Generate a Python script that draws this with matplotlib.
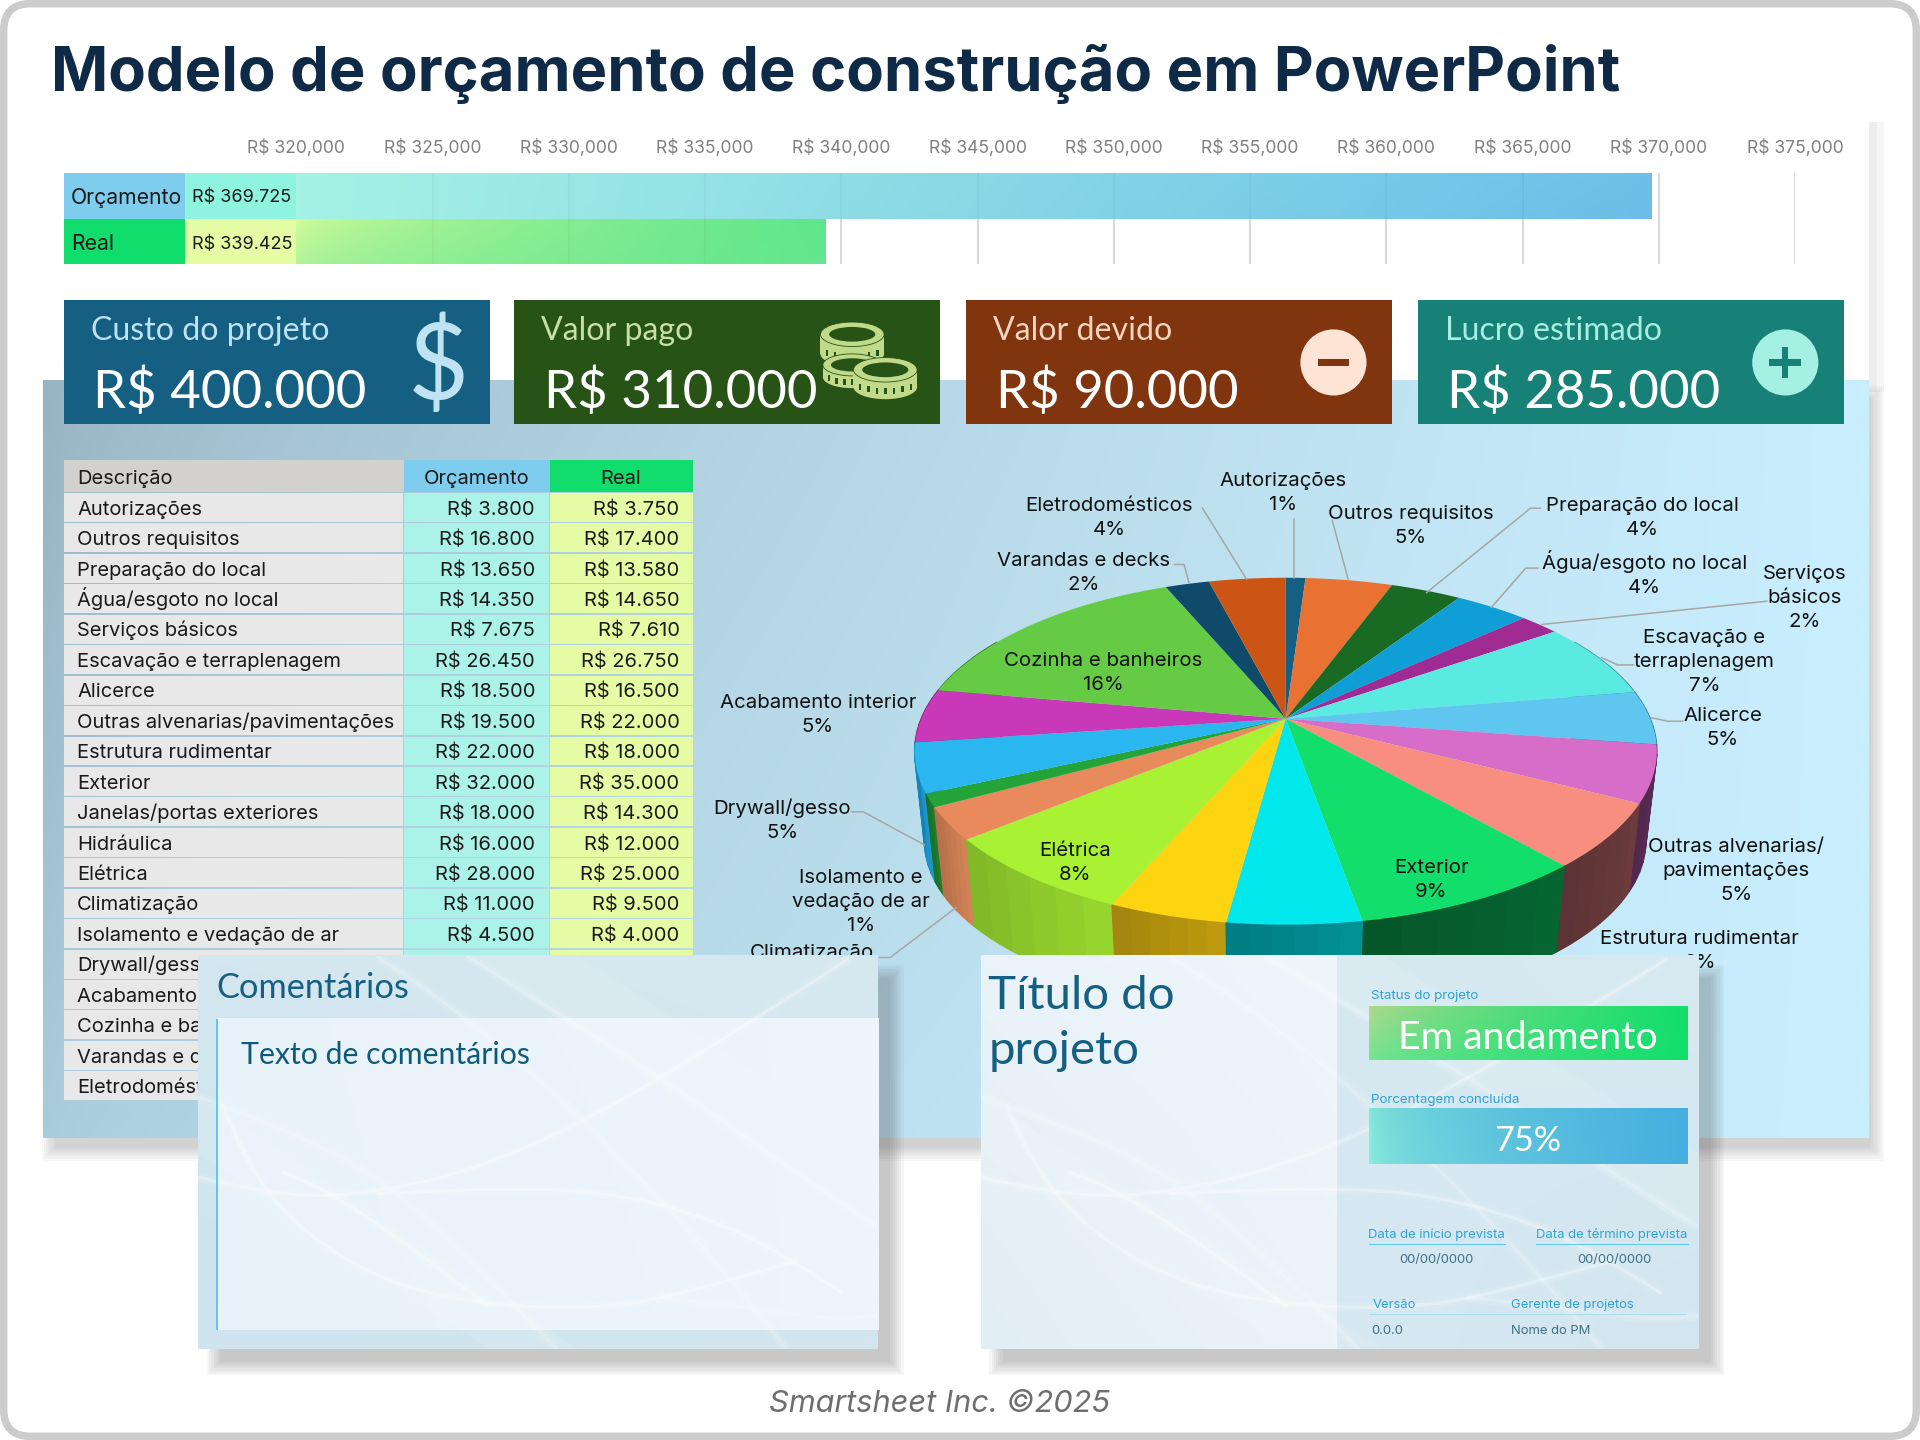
import matplotlib

matplotlib.use("Agg")
import matplotlib.pyplot as plt  # noqa: E402
import numpy as np  # noqa: E402
from matplotlib.colors import to_rgb  # noqa: E402
from matplotlib.font_manager import FontProperties  # noqa: E402
from matplotlib.patches import Circle, Ellipse, FancyBboxPatch, PathPatch, Polygon, Rectangle  # noqa: E402
from matplotlib.path import Path  # noqa: E402
from matplotlib.textpath import TextPath  # noqa: E402

FAMILY = ["Inter", "DejaVu Sans"]
THIN = ["Lato", "DejaVu Sans"]
plt.rcParams["font.family"] = FAMILY

# valores
TICKS = [320000, 325000, 330000, 335000, 340000, 345000, 350000, 355000, 360000, 365000, 370000, 375000]
TOTAL_ORCAMENTO = 369725
TOTAL_REAL = 339425

CARD_LABELS = ["Custo do projeto", "Valor pago", "Valor devido", "Lucro estimado"]
CARD_VALUES = [400000, 310000, 90000, 285000]
CARD_COLORS = ["#156082", "#275317", "#80350E", "#178077"]
CARD_LABEL_COLORS = ["#BFE3F3", "#C8E0A8", "#F6D5C0", "#A8EDE2"]

DESCRICOES = [
    "Autorizações", "Outros requisitos", "Preparação do local", "Água/esgoto no local",
    "Serviços básicos", "Escavação e terraplenagem", "Alicerce", "Outras alvenarias/pavimentações",
    "Estrutura rudimentar", "Exterior", "Janelas/portas exteriores", "Hidráulica", "Elétrica",
    "Climatização", "Isolamento e vedação de ar", "Drywall/gesso", "Acabamento interior",
    "Cozinha e banheiros", "Varandas e decks", "Eletrodomésticos",
]
ORCAMENTO = [
    3800, 16800, 13650, 14350, 7675, 26450, 18500, 19500, 22000, 32000,
    18000, 16000, 28000, 11000, 4500, 17000, 18500, 58700, 8500, 14800,
]
REAL_VISIVEL = [
    3750, 17400, 13580, 14650, 7610, 26750, 16500, 22000, 18000, 35000,
    14300, 12000, 25000, 9500, 4000,
]
PIE_COLORS = [
    "#156082", "#E97132", "#196B24", "#0F9ED5", "#A02B93", "#5BEAE2", "#5FC6F0", "#D56DC9",
    "#F88E80", "#12DE6C", "#00E8EC", "#FCD40F", "#A8F233", "#E98A5C", "#23A338", "#2AB6EE",
    "#C838B8", "#66CB44", "#0F4A6B", "#CC5515",
]
WALL_COLORS = [
    "#0D3A4E", "#8C441E", "#0F4016", "#095F80", "#5F1A58", "#37908A", "#3A7890", "#5A2C56",
    "#66383A", "#06602F", "#018A90", "#B5930F", "#8FCB2C", "#C97C52", "#1D7C2C", "#1A90C4",
    "#7A2270", "#3E7A29", "#092C40", "#7A330D",
]

# rótulos da pizza: linhas, centro x, y da primeira linha
PIE_LABELS = {
    0: (["Autorizações"], 1048, 391),
    1: (["Outros requisitos"], 1152, 418),
    2: (["Preparação do local"], 1341, 411),
    3: (["Água/esgoto no local"], 1343, 459),
    4: (["Serviços", "básicos"], 1474, 467),
    5: (["Escavação e", "terraplenagem"], 1392, 519),
    6: (["Alicerce"], 1407, 583),
    7: (["Outras alvenarias/", "pavimentações"], 1418, 690),
    8: (["Estrutura rudimentar"], 1388, 765),
    9: (["Exterior"], 1169, 707),
    12: (["Elétrica"], 878, 693),
    13: (["Climatização"], 663, 776),
    14: (["Isolamento e", "vedação de ar"], 703, 715),
    15: (["Drywall/gesso"], 639, 659),
    16: (["Acabamento interior"], 668, 572),
    17: (["Cozinha e banheiros"], 901, 538),
    18: (["Varandas e decks"], 885, 456),
    19: (["Eletrodomésticos"], 906, 411),
}
LEADERS = [
    [(1057, 424), (1057, 472)],
    [(1088, 425), (1101, 473)],
    [(1258, 415), (1250, 415), (1165, 484)],
    [(1256, 464), (1246, 464), (1218, 496)],
    [(1443, 491), (1259, 510)],
    [(959, 461), (967, 461), (971, 476)],
    [(982, 415), (1018, 473)],
    [(1334, 543), (1321, 543), (1308, 537)],
    [(1374, 589), (1362, 589), (1348, 586)],
    [(696, 663), (705, 663), (755, 690)],
    [(718, 782), (727, 782), (781, 741)],
]

# geometria da pizza em perspectiva (unidades da imagem 1568x1176)
PIE_CX, PIE_CY = 1050, 587
PIE_F, PIE_G, PIE_P = 297.7, 136.7, 0.187
PIE_VP = (1033, 3226)
PIE_K = 0.972

# texturas brancas dos painéis, em coordenadas do painel de comentários
SWIRLS = [
    [(325, 610), (370, 800), (470, 1000), (620, 1150), (800, 1215), (1000, 1225), (1150, 1180), (1350, 1080)],
    [(283, 830), (400, 880), (560, 890), (800, 800), (1100, 550), (1440, 175)],
    [(600, 880), (880, 855), (1100, 900), (1300, 1030), (1430, 1180)],
    [(430, 815), (480, 840), (640, 1010), (800, 1220)],
    [(283, 590), (500, 720), (700, 950), (920, 1347)],
    [(760, 168), (1100, 520), (1330, 800), (1492, 980)],
    [(1100, 1190), (1300, 1230), (1430, 1262), (1492, 1245)],
    [(600, 168), (960, 550), (1330, 1347)],
]

fig = plt.figure(figsize=(19.2, 14.4), dpi=100)
ax = fig.add_axes([0, 0, 1, 1])
ax.set_xlim(0, 1568)
ax.set_ylim(1176, 0)
ax.axis("off")
ax.autoscale(False)


def size_for(text, width, family=FAMILY, **font):
    # tamanho em pontos para o texto ocupar a largura pedida (unidades da imagem)
    prop = FontProperties(family=family, **font)
    box = TextPath((0, 0), text, size=100, prop=prop).get_extents()
    return 100 * width * (1920 / 1568) * 0.72 / box.width


def label(x, y, s, size, color="#1A1A1A", ha="left", z=6, **kw):
    # y é o centro das maiúsculas; pela linha de base as linhas da tabela ficam alinhadas
    return ax.text(x, y + 0.408 * size, s, fontsize=size, color=color, ha=ha, va="baseline", zorder=z, **kw)


def rect(x0, y0, x1, y1, color, z=2, **kw):
    p = Rectangle((x0, y0), x1 - x0, y1 - y0, facecolor=color, edgecolor="none", zorder=z, **kw)
    ax.add_patch(p)
    return p


def gradient(axis, x0, y0, x1, y1, corners, z=2, gamma=1.0):
    # corners: superior esq., superior dir., inferior esq., inferior dir.
    tl, tr, bl, br = [np.array(to_rgb(c)) for c in corners]
    u = np.linspace(0, 1, 128)[None, :, None] ** gamma
    v = np.linspace(0, 1, 64)[:, None, None]
    img = (1 - v) * ((1 - u) * tl + u * tr) + v * ((1 - u) * bl + u * br)
    return axis.imshow(img, extent=(x0, x1, y1, y0), aspect="auto", zorder=z, interpolation="bilinear")


def shadow(x0, y0, x1, y1, dx=14, dy=14, z=1, strength=0.05):
    for i in range(7):
        grow = 7 - i * 1.8
        rect(x0 + dx - grow, y0 + dy - grow, x1 + dx + grow, y1 + dy + grow, "#555555", z=z, alpha=strength)


def smooth_path(points):
    pts = np.array(points, dtype=float)
    verts = [pts[0]]
    codes = [Path.MOVETO]
    for a, b in zip(pts[1:-2], pts[2:-1]):
        verts += [a, (a + b) / 2]
        codes += [Path.CURVE3, Path.CURVE3]
    verts += [pts[-2], pts[-1]]
    codes += [Path.CURVE3, Path.CURVE3]
    return Path(verts, codes)


def swirls(x0, y0, x1, y1, clip, z=9):
    to_panel = lambda a, b: (x0 + (a - 283) / 1209 * (x1 - x0), y0 + (b - 168) / 1179 * (y1 - y0))
    # faixas diagonais bem claras
    for band in [[(760, 168), (960, 168), (1492, 760), (1492, 1000)], [(283, 590), (283, 760), (800, 1347), (960, 1347)]]:
        patch = Polygon([to_panel(a, b) for a, b in band], facecolor="white", edgecolor="none", alpha=0.1, zorder=z)
        ax.add_patch(patch)
        patch.set_clip_path(clip)
    for k, curve in enumerate(SWIRLS):
        path = smooth_path([to_panel(a, b) for a, b in curve])
        for lw, alpha in [(7, 0.1), (2.5, 0.3 if k < 4 else 0.18)]:
            patch = PathPatch(path, facecolor="none", edgecolor="white", lw=lw, alpha=alpha, zorder=z)
            ax.add_patch(patch)
            patch.set_clip_path(clip)


def pie_top(theta):
    c, s = np.cos(theta), np.sin(theta)
    w = 1 + PIE_P * c
    return np.column_stack([PIE_CX + PIE_F * s / w, PIE_CY - PIE_G * c / w])


def pie_bottom(points):
    vp = np.array(PIE_VP, dtype=float)
    return vp + PIE_K * (points - vp)


def draw_pie():
    values = np.array(ORCAMENTO, dtype=float)
    edges = 2 * np.pi * np.concatenate([[0], np.cumsum(values)]) / values.sum()

    # paredes: de trás para a frente
    order = sorted(range(len(values)), key=lambda i: -abs((edges[i] + edges[i + 1]) / 2 - np.pi))
    for i in order:
        a, b = max(edges[i], np.radians(60)), min(edges[i + 1], np.radians(300))
        if b <= a:
            continue
        base = np.array(to_rgb(WALL_COLORS[i]))
        steps = np.linspace(a, b, 7)
        for j in range(6):
            top = pie_top(np.linspace(steps[j], steps[j + 1], 6))
            bottom = pie_bottom(top)
            col = tuple(np.clip(base * (1.05 - 0.14 * j / 5), 0, 1))
            ax.add_patch(Polygon(np.vstack([top, bottom[::-1]]), facecolor=col, edgecolor=col, lw=1.0, zorder=4))

    # topo
    for i in range(len(values)):
        arc = pie_top(np.linspace(edges[i], edges[i + 1], 40))
        poly = np.vstack([[PIE_CX, PIE_CY], arc])
        ax.add_patch(Polygon(poly, facecolor=PIE_COLORS[i], edgecolor="none", zorder=4.5))

    size = size_for("Outras alvenarias/", 142)
    total = values.sum()
    for i, (lines, x, y) in PIE_LABELS.items():
        for n, line in enumerate(lines + [f"{values[i] / total * 100:.0f}%"]):
            label(x, y + n * 19.6, line, size, color="#111111", ha="center", z=6)
    for pts in LEADERS:
        xs, ys = zip(*pts)
        ax.plot(xs, ys, color="#A6A6A6", lw=1.1, zorder=5)


def draw_bars():
    left, right = 242, 1466
    top, bottom = 141, 216
    bar_ax = fig.add_axes([left / 1568, 1 - bottom / 1176, (right - left) / 1568, (bottom - top) / 1176])
    bar_ax.patch.set_alpha(0)
    bar_ax.set_xlim(TICKS[0], TICKS[-1])
    bar_ax.set_ylim(2, 0)
    bars = bar_ax.barh([0.5, 1.5], [TOTAL_ORCAMENTO - TICKS[0], TOTAL_REAL - TICKS[0]], left=TICKS[0], height=1.0,
                       color="none", zorder=1)
    bar_ax.autoscale(False)
    shades = [
        ("#A4F2E4", "#6EC0EA", "#A4F2E4", "#6CBDE8"),
        ("#D4FB9A", "#5FE68C", "#B4F49A", "#62E68E"),
    ]
    for bar, corners, (y0, y1), gamma in zip(bars, shades, [(0, 1), (1, 2)], [1.0, 0.6]):
        img = gradient(bar_ax, TICKS[0], y0, bar.get_x() + bar.get_width(), y1, corners, z=1, gamma=gamma)
        img.set_clip_path(bar)
    bar_ax.set_xticks(TICKS)
    bar_ax.set_xticklabels([f"R$ {t:,}" for t in TICKS], color="#808080", fontsize=size_for("R$ 320,000", 78))
    bar_ax.xaxis.tick_top()
    bar_ax.tick_params(axis="x", length=0, pad=11)
    bar_ax.set_yticks([])
    # grade atrás das barras, e só um traço fraco por cima delas
    bar_ax.grid(axis="x", color="#D9D9D9", lw=1.1, zorder=0)
    bar_ax.set_axisbelow(True)
    bar_ax.vlines(TICKS[1:], 0, 2, color="#000000", alpha=0.04, lw=1.1, zorder=3)
    for spine in bar_ax.spines.values():
        spine.set_visible(False)


def coin(cx, cy, rx, ry, h):
    fill, dark = "#C1DA8A", "#275317"
    ax.add_patch(Ellipse((cx, cy + h), 2 * rx, 2 * ry, facecolor=fill, zorder=4))
    rect(cx - rx, cy, cx + rx, cy + h, fill, z=4)
    ax.add_patch(Ellipse((cx, cy), 2 * rx, 2 * ry, facecolor=fill, edgecolor=dark, lw=0.6, zorder=4))
    ax.add_patch(Ellipse((cx, cy), 1.45 * rx, 1.2 * ry, facecolor=dark, zorder=4))
    for t in np.linspace(-0.8, 0.8, 7):
        x = cx + t * rx
        y = cy + h * 0.6 + ry * np.sqrt(1 - t * t) * 0.9
        rect(x - 1, y - 2.5, x + 1, y + 2.5, dark, z=4)


def draw_cards():
    title = size_for("Custo do projeto", 192, THIN)
    value = size_for("R$ 400.000", 218, THIN)
    for x0, name, val, color, lab in zip([52, 420, 789, 1158], CARD_LABELS, CARD_VALUES, CARD_COLORS, CARD_LABEL_COLORS):
        rect(x0, 245, x0 + 348, 346, color, z=3)
        label(x0 + 22, 268, name, title, color=lab, z=4, family=THIN)
        label(x0 + 24, 318, f"R$ {val:,}".replace(",", "."), value, color="white", z=4, family=THIN)
    label(358, 295, "$", 76, color="#BFE3F3", ha="center", z=4, family=THIN)
    coin(696, 273, 26, 10, 16)
    coin(696, 298, 24, 9, 10)
    coin(723, 302, 26, 10, 14)
    ax.add_patch(Circle((1089, 296), 27, facecolor="#FDE4D5", zorder=4))
    rect(1076, 293.5, 1102, 298.5, "#80350E", z=5)
    ax.add_patch(Circle((1458, 296), 27, facecolor="#A5EFE3", zorder=4))
    rect(1445, 293.5, 1471, 298.5, "#178077", z=5)
    rect(1455.5, 283, 1460.5, 309, "#178077", z=5)


def draw_table():
    xs = [52, 330, 449, 566]
    top, head, step = 376, 402.6, 24.86
    size = size_for("Outras alvenarias/pavimentações", 258)
    rect(xs[0], top, xs[1], head - 1, "#D2D1CD", z=3)
    rect(xs[1], top, xs[2], head - 1, "#7FCDEE", z=3)
    rect(xs[2], top, xs[3], head - 1, "#10DD6C", z=3)
    label(63, 389.5, "Descrição", size, z=4)
    label(389, 389.5, "Orçamento", size, ha="center", z=4)
    label(507, 389.5, "Real", size, ha="center", z=4)
    for i, name in enumerate(DESCRICOES):
        y0 = head + i * step
        y1 = y0 + step - 1.2
        yc = (y0 + y1) / 2
        rect(xs[0], y0, xs[1] - 0.6, y1, "#E8E8E8", z=3)
        rect(xs[1], y0, xs[2] - 0.6, y1, "#ABF2E8", z=3)
        rect(xs[2], y0, xs[3], y1, "#E6FCA4", z=3)
        label(63, yc, name, size, z=4)
        if i < len(REAL_VISIVEL):
            label(437, yc, f"R$ {ORCAMENTO[i]:,}".replace(",", "."), size, ha="right", z=4)
            label(555, yc, f"R$ {REAL_VISIVEL[i]:,}".replace(",", "."), size, ha="right", z=4)


def draw_comments():
    x0, y0, x1, y1 = 162, 781, 717, 1102
    shadow(x0, y0, x1, y1, z=7)
    base = rect(x0, y0, x1, y1, "#D2E6EF", z=8)
    gradient(ax, x0, y0, x1, y1, ("#D4E7F0", "#D6E8F0", "#CFE4EE", "#D3E6EF"), z=8)
    gradient(ax, 177, 832, x1, 1086, ("#E8F3F9", "#EEF5FB", "#E7F2F9", "#EEF5FB"), z=8.1)
    swirls(x0, y0, x1, y1, base)
    rect(176, 832, 178, 1086, "#5CC8F5", z=9)
    label(177, 805, "Comentários", size_for("Comentários", 155, THIN), color="#156082", z=10, family=THIN)
    label(197, 860, "Texto de comentários", size_for("Texto de comentários", 235, THIN), color="#0F5A78", z=10,
          family=THIN)


def draw_project():
    x0, y0, x1, y1 = 801, 781, 1387, 1102
    split = 1092
    shadow(x0, y0, x1, y1, z=7)
    base = rect(x0, y0, x1, y1, "#EAF3F9", z=8)
    gradient(ax, x0, y0, split, y1, ("#E9F3F8", "#EFF6FB", "#E2EEF5", "#EAF3F9"), z=8)
    gradient(ax, split, y0, x1, y1, ("#D5E8F1", "#D7E9F1", "#D6E8F1", "#D3E6EF"), z=8)
    swirls(x0, y0, x1, y1, base)

    big = size_for("Título do", 150, THIN)
    label(807, 810, "Título do", big, color="#156082", z=10, family=THIN)
    label(807, 855, "projeto", big, color="#156082", z=10, family=THIN)

    small = size_for("Porcentagem concluída", 120)
    blue = "#2EA3D6"
    label(1120, 812, "Status do projeto", small, color=blue, z=10)
    gradient(ax, 1118, 822, 1378, 866, ("#B2D88E", "#12DE6C", "#78E494", "#12DE6C"), z=9.5, gamma=0.7)
    label(1248, 845, "Em andamento", size_for("Em andamento", 208, THIN), color="white", ha="center", z=10,
          family=THIN)
    label(1120, 897, "Porcentagem concluída", small, color=blue, z=10)
    gradient(ax, 1118, 906, 1378, 951, ("#86E8D8", "#46AFE0", "#8EEEDC", "#46AFE0"), z=9.5, gamma=0.5)
    label(1248, 930, "75%", size_for("75%", 52, THIN), color="white", ha="center", z=10, family=THIN)

    date = size_for("Data de término prevista", 122)
    label(1173, 1007, "Data de início prevista", date, color=blue, ha="center", z=10)
    label(1316, 1007, "Data de término prevista", date, color=blue, ha="center", z=10)
    rect(1118, 1016, 1230, 1017, "#5CC8F5", z=10)
    rect(1254, 1016, 1379, 1017, "#5CC8F5", z=10)
    value = size_for("00/00/0000", 60)
    label(1173, 1028, "00/00/0000", value, color="#3E7189", ha="center", z=10)
    label(1318, 1028, "00/00/0000", value, color="#3E7189", ha="center", z=10)
    label(1121, 1064, "Versão", date, color=blue, z=10)
    label(1234, 1064, "Gerente de projetos", date, color=blue, z=10)
    rect(1118, 1073, 1378, 1074, "#A8DDEE", z=10)
    label(1120, 1086, "0.0.0", value, color="#3E7189", z=10)
    label(1234, 1086, "Nome do PM", value, color="#3E7189", z=10)


# moldura e fundo
frame = FancyBboxPatch((3, 3), 1562, 1170, boxstyle="round,pad=0,rounding_size=22",
                       facecolor="white", edgecolor="#CCCCCC", lw=5.4, zorder=0)
ax.add_patch(frame)
rect(1526, 100, 1533, 320, "#EDEDED", z=0.5)
rect(1533, 100, 1539, 320, "#F6F6F6", z=0.5)
shadow(35, 310, 1526, 929, dx=6, dy=12, z=0.6, strength=0.04)
gradient(ax, 35, 310, 1526, 929, ("#98B3C2", "#C9EEFD", "#A9CCDB", "#C9EEFD"), z=1, gamma=0.65)

title_text = "Modelo de orçamento de construção em PowerPoint"
label(42, 56, title_text, size_for(title_text, 1278, weight="bold"), color="#0F2A47", weight="bold")

# células à esquerda das barras
cell = size_for("R$ 369.725", 79)
name_size = size_for("Orçamento", 89)
rect(52, 141, 151, 179, "#7FCDEE", z=3)
rect(151, 141, 242, 179, "#8EF3DF", z=3)
rect(52, 179, 151, 216, "#10DD6C", z=3)
rect(151, 179, 242, 216, "#E6FCA4", z=3)
label(58, 160, "Orçamento", name_size, z=4)
label(58, 198, "Real", name_size, z=4)
label(157, 160, f"R$ {TOTAL_ORCAMENTO:,}".replace(",", "."), cell, z=4)
label(157, 198, f"R$ {TOTAL_REAL:,}".replace(",", "."), cell, z=4)

draw_bars()
draw_cards()
draw_table()
draw_pie()
draw_comments()
draw_project()

label(767, 1144, "Smartsheet Inc. ©2025", size_for("Smartsheet Inc. ©2025", 277, style="italic"),
      color="#6E6E6E", ha="center", style="italic", z=10)

fig.savefig("out.png", dpi=100)
